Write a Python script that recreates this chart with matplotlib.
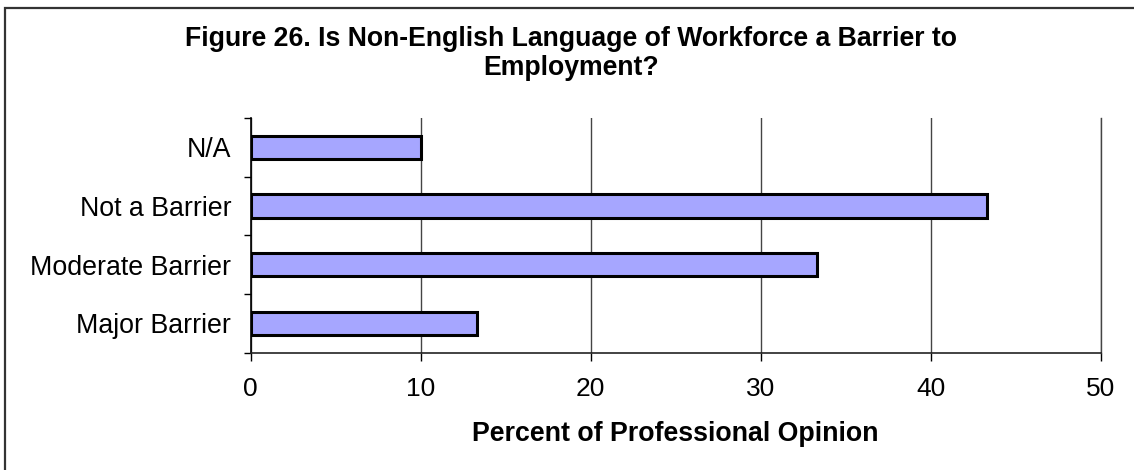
import matplotlib
matplotlib.use('Agg')
import matplotlib.pyplot as plt
from matplotlib.patches import Rectangle
from matplotlib.ticker import FixedLocator

plt.rcParams['font.family'] = ['Liberation Sans', 'DejaVu Sans']

# Datos (de abajo hacia arriba)
categories = ['Major Barrier', 'Moderate Barrier', 'Not a Barrier', 'N/A']
values     = [13.3, 33.3, 43.3, 10.0]
x_ticks    = [0, 10, 20, 30, 40, 50]

TITLE  = "Figure 26. Is Non-English Language of Workforce a Barrier to\nEmployment?"
XLABEL = "Percent of Professional Opinion"

fig = plt.figure(figsize=(11.34, 4.70), dpi=100)
ax = fig.add_axes([250.7 / 1134, 1 - 352.7 / 470, 850 / 1134, 234.7 / 470])

pos = list(range(len(categories)))
ax.barh(pos, values, height=0.4, color='#A6A6FF', edgecolor='black', linewidth=2.2, zorder=3)

ax.set_xlim(0, 50)
ax.set_ylim(-0.5, len(categories) - 0.5)
ax.set_xticks(x_ticks)
ax.set_xticklabels([str(t) for t in x_ticks], fontsize=19)
ax.set_yticks(pos)
ax.set_yticklabels(categories, fontsize=19.3)

# ticks menores en los limites de categoria
ax.yaxis.set_minor_locator(FixedLocator([p - 0.5 for p in pos] + [pos[-1] + 0.5]))
ax.tick_params(axis='y', which='major', length=0, pad=14)
ax.tick_params(axis='y', which='minor', length=5.3, width=1, color='black')
ax.tick_params(axis='x', which='major', length=5.5, width=1, color='black', pad=12)

ax.grid(axis='x', color='#444444', linewidth=1.0, zorder=0)
ax.spines['top'].set_visible(False)
ax.spines['right'].set_color('#444444')
ax.spines['right'].set_linewidth(1.0)
ax.spines['left'].set_linewidth(1.2)
ax.spines['bottom'].set_linewidth(1.2)
ax.spines['bottom'].set_color('#222222')

ax.set_xlabel(XLABEL, fontsize=19.3, fontweight='bold')
ax.xaxis.set_label_coords(0.5, -0.29)
ax.xaxis.label.set_va('top')

fig.text(571 / 1134, 1 - 26 / 470, TITLE, ha='center', va='top',
         fontsize=19.2, fontweight='bold', linespacing=1.15)

# marco exterior (solo borde superior e izquierdo visibles)
fig.add_artist(Rectangle((5 / 1134, -0.2), 1.2, 1.2 - 8 / 470, transform=fig.transFigure,
                         fill=False, edgecolor='#333333', linewidth=1.6))

plt.savefig('out.png', dpi=100)
plt.close()
